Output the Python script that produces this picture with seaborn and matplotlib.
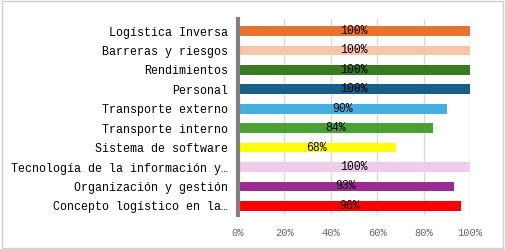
import matplotlib
matplotlib.use("Agg")
import matplotlib.pyplot as plt
import seaborn as sns
import pandas as pd
from matplotlib.patches import Rectangle
from matplotlib.ticker import FuncFormatter

categories = ["Logística Inversa", "Barreras y riesgos", "Rendimientos", "Personal",
              "Transporte externo", "Transporte interno", "Sistema de software",
              "Tecnología de la información y…", "Organización y gestión",
              "Concepto logístico en la…"]
values = [100, 100, 100, 100, 90, 84, 68, 100, 93, 96]
colors = ["#E87330", "#F8C4A8", "#3A7A20", "#1A5E8A", "#45B0E0", "#4AA030",
          "#FFFF00", "#F0CCEC", "#9C2A90", "#FF0000"]
xticks = [0, 20, 40, 60, 80, 100]

sns.set_style("white")
plt.rcParams['font.family'] = ['Liberation Mono', 'DejaVu Sans Mono']

df = pd.DataFrame({"cat": categories, "val": values})
fig = plt.figure(figsize=(5.05, 2.49), dpi=100)
ax = fig.add_axes([238/505, 1-215/249, (470-238)/505, (215-19)/249])
sns.barplot(data=df, y="cat", x="val", hue="cat", palette=colors, legend=False,
            width=0.5, ax=ax, edgecolor="none", saturation=1)
ax.set_xlim(0, 100)
ax.set_ylim(9.47, -0.62)
ax.set_xticks(xticks)
ax.xaxis.set_major_formatter(FuncFormatter(lambda v, p: f"{int(v)}%"))
ax.set_xlabel("")
ax.set_ylabel("")
ax.grid(axis="x", color="#D9D9D9", linewidth=1)
ax.set_axisbelow(True)
for s in ["top", "right", "bottom"]:
    ax.spines[s].set_visible(False)
ax.spines["left"].set_color("#808080")
ax.spines["left"].set_linewidth(3)
ax.tick_params(axis="x", colors="#666666", labelsize=7.5, length=0, pad=9)
ax.tick_params(axis="y", labelsize=8.4, length=0, pad=7, colors="#000000")
for c in ax.containers:
    ax.bar_label(c, labels=[f"{int(v)}%" for v in c.datavalues], label_type="center",
                 fontsize=8.3, color="black")
fig.patches.append(Rectangle((0.003, 0.005), 0.994, 0.99, transform=fig.transFigure,
                             fill=False, edgecolor="#D0D0D0", linewidth=1))
fig.savefig("out.png", dpi=100)
